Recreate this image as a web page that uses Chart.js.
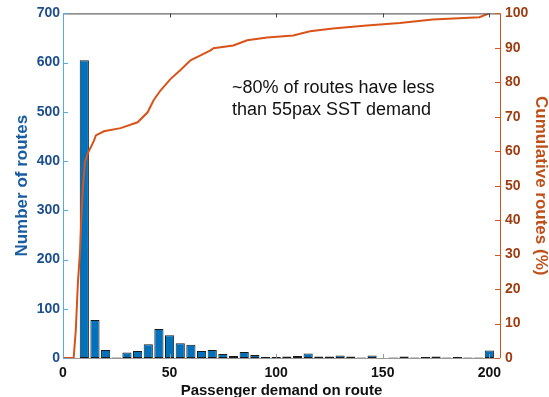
<!DOCTYPE html>
<html>
<head>
<meta charset="utf-8">
<script src="https://cdn.jsdelivr.net/npm/chart.js@4/dist/chart.umd.min.js"></script>
<style>
  body { margin: 0; background: #fff; }
  #wrap { width: 549px; height: 397px; }
</style>
</head>
<body>
<div id="wrap"><canvas id="chartDemand" width="549" height="397"></canvas></div>
<script>
// Histogram bins (centre of each 5-pax bin) and number of routes
const binCenters = [10, 15, 20, 25, 30, 35, 40, 45, 50, 55, 60, 65, 70, 75, 80, 85, 90, 95, 100,
    105, 110, 115, 120, 125, 130, 135, 140, 145, 150, 155, 160, 165, 170, 175, 180, 185, 190, 195, 200];
const routeCounts = [605, 77, 16, 1, 11, 14, 28, 59, 46, 30, 27, 14, 16, 8, 4, 12, 6, 2, 2,
    3, 4, 9, 3, 3, 5, 3, 1, 5, 0, 1, 3, 1, 2, 3, 1, 2, 1, 1, 15];

// Cumulative curve (% of routes)
const cumX = [0, 5, 6, 7, 8, 8.5, 9.3, 10.3, 11.7, 12.1, 14.5, 15.4, 19.2, 27, 35, 39.7, 42.5,
    45.8, 50.5, 55, 59.8, 64.5, 69.2, 70.6, 79.9, 86.4, 95.8, 108, 115.9, 126.6, 142.5, 158,
    173.4, 195.3, 200];
const cumY = [0, 0, 8, 22, 31, 39, 49, 57, 59.5, 60, 63, 64.6, 65.8, 66.7, 68.4, 71.3, 74.8,
    77.7, 81, 83.5, 86.4, 87.8, 89.3, 89.9, 90.7, 92.2, 93, 93.6, 94.8, 95.6, 96.5, 97.2,
    98.2, 98.9, 100];

const xTicks = [0, 50, 100, 150, 200];
const countTicks = [0, 100, 200, 300, 400, 500, 600, 700];
const pctTicks = [0, 10, 20, 30, 40, 50, 60, 70, 80, 90, 100];

const noteLines = ['~80% of routes have less', 'than 55pax SST demand'];

const fontFam = '"Liberation Sans", Arial, Helvetica, sans-serif';

// petits traits de graduation vers l'intérieur + bordures + annotation
const frameAndNote = {
    id: 'frameAndNote',
    afterDatasetsDraw(chart) {
        const ctx = chart.ctx;
        const a = chart.chartArea;
        const sx = chart.scales.x, sy = chart.scales.y, sy1 = chart.scales.y1;
        ctx.save();
        ctx.lineWidth = 1;

        // bordure haute + axe bas
        ctx.strokeStyle = '#444';
        ctx.beginPath(); ctx.moveTo(a.left, a.top + 0.5); ctx.lineTo(a.right, a.top + 0.5); ctx.stroke();
        ctx.strokeStyle = '#999';
        ctx.beginPath(); ctx.moveTo(a.left, a.bottom + 0.5); ctx.lineTo(a.right, a.bottom + 0.5); ctx.stroke();
        xTicks.forEach(v => {
            const px = Math.round(sx.getPixelForValue(v)) + 0.5;
            ctx.strokeStyle = '#444';
            ctx.beginPath(); ctx.moveTo(px, a.top); ctx.lineTo(px, a.top + 4); ctx.stroke();
            ctx.strokeStyle = '#999';
            ctx.beginPath(); ctx.moveTo(px, a.bottom); ctx.lineTo(px, a.bottom - 4); ctx.stroke();
        });

        // axe gauche (bleu clair)
        ctx.strokeStyle = '#5AAAE2';
        ctx.beginPath(); ctx.moveTo(a.left + 0.5, a.top); ctx.lineTo(a.left + 0.5, a.bottom); ctx.stroke();
        countTicks.forEach(v => {
            const py = Math.round(sy.getPixelForValue(v)) + 0.5;
            ctx.beginPath(); ctx.moveTo(a.left, py); ctx.lineTo(a.left + 5, py); ctx.stroke();
        });

        // axe droit (orange)
        ctx.strokeStyle = '#D95319';
        ctx.beginPath(); ctx.moveTo(a.right + 0.5, a.top); ctx.lineTo(a.right + 0.5, a.bottom); ctx.stroke();
        pctTicks.forEach(v => {
            const py = Math.round(sy1.getPixelForValue(v)) + 0.5;
            ctx.beginPath(); ctx.moveTo(a.right, py); ctx.lineTo(a.right - 5, py); ctx.stroke();
        });

        // annotation
        ctx.fillStyle = '#111';
        ctx.font = '18px ' + fontFam;
        ctx.textBaseline = 'alphabetic';
        ctx.textAlign = 'left';
        ctx.fillText(noteLines[0], 232, 93);
        ctx.fillText(noteLines[1], 232, 115);
        ctx.restore();
    }
};

const ctx = document.getElementById('chartDemand').getContext('2d');
const demandChart = new Chart(ctx, {
    type: 'bar',
    data: {
        datasets: [{
            type: 'line',
            label: 'Cumulative routes (%)',
            data: cumX.map((x, i) => ({ x: x, y: cumY[i] })),
            yAxisID: 'y1',
            borderColor: '#D95319',
            borderWidth: 2,
            pointRadius: 0,
            tension: 0,
            order: 0
        }, {
            type: 'bar',
            label: 'Number of routes',
            data: binCenters.map((x, i) => ({ x: x, y: routeCounts[i] })),
            yAxisID: 'y',
            backgroundColor: '#0072BD',
            borderColor: '#1a1a1a',
            borderWidth: 1,
            borderSkipped: false,
            barPercentage: 0.86,
            categoryPercentage: 1,
            order: 1
        }]
    },
    options: {
        responsive: false,
        animation: false,
        layout: { padding: { top: 13, left: 0, right: 0, bottom: 0 } },
        plugins: {
            legend: { display: false },
            tooltip: { enabled: false }
        },
        scales: {
            x: {
                type: 'linear',
                min: 0,
                max: 205,
                offset: false,
                afterBuildTicks: s => { s.ticks = xTicks.map(v => ({ value: v })); },
                afterFit: s => { s.height = 39; },
                grid: { display: false, drawTicks: false },
                border: { display: false },
                ticks: {
                    padding: 7,
                    color: '#111',
                    font: { family: fontFam, size: 14, weight: 'bold' }
                },
                title: {
                    display: true,
                    text: 'Passenger demand on route',
                    color: '#111',
                    padding: -1,
                    font: { family: fontFam, size: 15, weight: 'bold', lineHeight: 1 }
                }
            },
            y: {
                position: 'left',
                min: 0,
                max: 700,
                afterBuildTicks: s => { s.ticks = countTicks.map(v => ({ value: v })); },
                afterFit: s => { s.width = 63; },
                grid: { display: false, drawTicks: false },
                border: { display: false },
                ticks: {
                    padding: 3,
                    color: '#1D4F8C',
                    font: { family: fontFam, size: 14, weight: 'bold' }
                },
                title: {
                    display: true,
                    text: 'Number of routes',
                    color: '#1A5CA0',
                    padding: 14,
                    font: { family: fontFam, size: 17, weight: 'bold', lineHeight: 1 }
                }
            },
            y1: {
                position: 'right',
                min: 0,
                max: 100,
                afterBuildTicks: s => { s.ticks = pctTicks.map(v => ({ value: v })); },
                afterFit: s => { s.width = 49; },
                grid: { display: false, drawTicks: false },
                border: { display: false },
                ticks: {
                    padding: 5,
                    color: '#9E3D12',
                    font: { family: fontFam, size: 14, weight: 'bold' }
                },
                title: {
                    display: true,
                    text: 'Cumulative routes (%)',
                    color: '#C0501A',
                    padding: 0,
                    font: { family: fontFam, size: 17, weight: 'bold', lineHeight: 1 }
                }
            }
        }
    },
    plugins: [frameAndNote]
});
</script>
</body>
</html>
